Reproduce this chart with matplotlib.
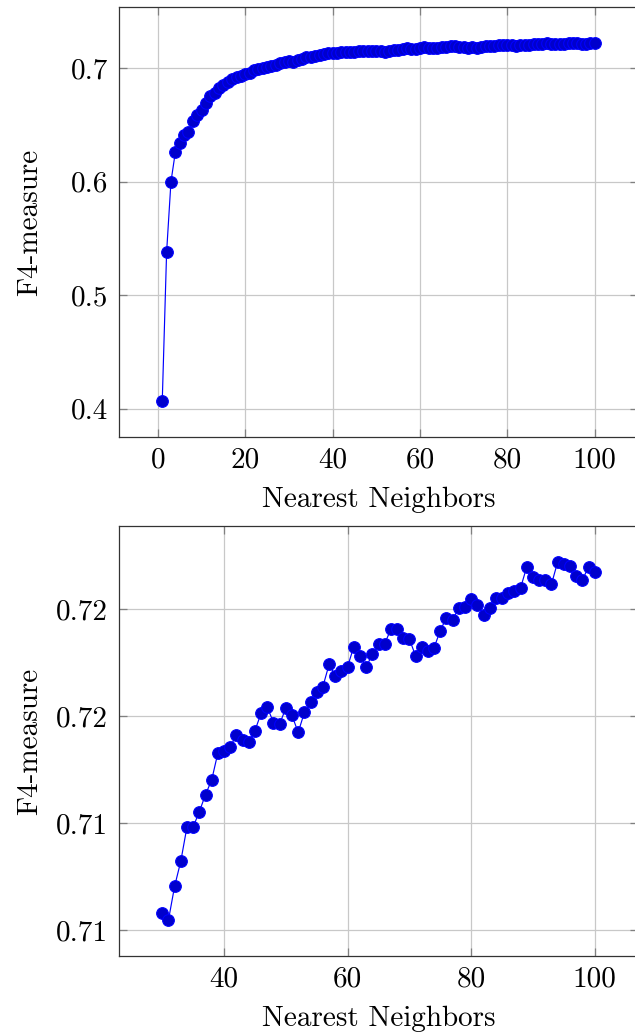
import matplotlib
matplotlib.use("Agg")
import matplotlib.pyplot as plt

# font tipo LaTeX (Computer Modern incluso in matplotlib)
plt.rcParams["font.family"] = "serif"
plt.rcParams["font.serif"] = ["cmr10"]
plt.rcParams["mathtext.fontset"] = "cm"
plt.rcParams["axes.formatter.use_mathtext"] = True

# Dati: vicini piu' vicini 1..29 (solo grafico in alto)
k_head = list(range(1, 30))
f4_head = [0.4065, 0.538, 0.600, 0.626, 0.634, 0.641, 0.644, 0.653, 0.659, 0.663,
           0.669, 0.675, 0.678, 0.682, 0.685, 0.688, 0.690, 0.692, 0.693, 0.695,
           0.696, 0.698, 0.699, 0.700, 0.701, 0.702, 0.703, 0.704, 0.705]

# Dati: vicini 30..100 (entrambi i grafici)
k_tail = list(range(30, 101))
f4_tail = [0.70583, 0.70548, 0.70706, 0.70823, 0.70983, 0.70983, 0.71054, 0.71134,
           0.71202, 0.71328, 0.71339, 0.71356, 0.71413, 0.71390, 0.71380, 0.71432,
           0.71514, 0.71542, 0.71470, 0.71464, 0.71537, 0.71503, 0.71424, 0.71517,
           0.71564, 0.71612, 0.71638, 0.71741, 0.71689, 0.71711, 0.71731, 0.71824,
           0.71781, 0.71728, 0.71789, 0.71836, 0.71838, 0.71905, 0.71905, 0.71866,
           0.71860, 0.71781, 0.71824, 0.71806, 0.71820, 0.71899, 0.71960, 0.71949,
           0.72006, 0.72011, 0.72046, 0.72019, 0.71972, 0.72003, 0.72053, 0.72053,
           0.72076, 0.72085, 0.72099, 0.72197, 0.72150, 0.72135, 0.72135, 0.72116,
           0.72220, 0.72208, 0.72202, 0.72155, 0.72135, 0.72197, 0.72171]

k_all = k_head + k_tail
f4_all = f4_head + f4_tail

top_xticks = [0, 20, 40, 60, 80, 100]
top_yticks = [0.4, 0.5, 0.6, 0.7]
top_ylabels = ["0.4", "0.5", "0.6", "0.7"]
bot_xticks = [40, 60, 80, 100]
bot_yticks = [0.705, 0.710, 0.715, 0.720]
bot_ylabels = ["0.71", "0.71", "0.72", "0.72"]  # arrotondati come in pgfplots

W, H = 635, 1035
fig = plt.figure(figsize=(W / 100, H / 100), dpi=100)
fig.patch.set_facecolor("white")

FS = 21


def limits(vals, frac=0.1):
    lo, hi = min(vals), max(vals)
    d = (hi - lo) * frac
    return lo - d, hi + d


def draw(ax, xs, ys, xticks, yticks, ylabels):
    ax.plot(xs, ys, color="#0000FF", lw=0.85, marker="o", markersize=8.4,
            markerfacecolor="#0000CC", markeredgecolor="#0000FF", mew=0.8,
            zorder=3, clip_on=True)
    ax.set_xlim(*limits(xs))
    ax.set_ylim(*limits(ys))
    ax.set_xticks(xticks)
    ax.set_xticklabels([str(t) for t in xticks])
    ax.set_yticks(yticks)
    ax.set_yticklabels(ylabels)
    ax.grid(True, color="#C8C8C8", lw=0.9)
    ax.set_axisbelow(True)
    ax.tick_params(direction="in", top=True, right=True, length=5.8, width=0.9,
                   color="#808080", labelsize=FS)
    ax.tick_params(axis="y", pad=8)
    ax.tick_params(axis="x", pad=7)
    for s in ax.spines.values():
        s.set_color("#333333")
        s.set_linewidth(0.9)
    ax.set_xlabel("Nearest Neighbors", fontsize=FS)
    ax.set_ylabel("F4-measure", fontsize=FS)
    ax.xaxis.label.set_va("center")
    ax.yaxis.label.set_va("center")
    ax_w = 519.0
    ax_h = 430.0
    ax.yaxis.set_label_coords(-(119 - 30) / ax_w, 0.5)
    ax.xaxis.set_label_coords(0.5, -63 / ax_h)


left = 119 / W
width = 519 / W
ax1 = fig.add_axes([left, (H - 437) / H, width, 430 / H])
ax2 = fig.add_axes([left, (H - 956) / H, width, 430 / H])

draw(ax1, k_all, f4_all, top_xticks, top_yticks, top_ylabels)
draw(ax2, k_tail, f4_tail, bot_xticks, bot_yticks, bot_ylabels)

fig.savefig("out.png", dpi=100, facecolor=fig.get_facecolor())
